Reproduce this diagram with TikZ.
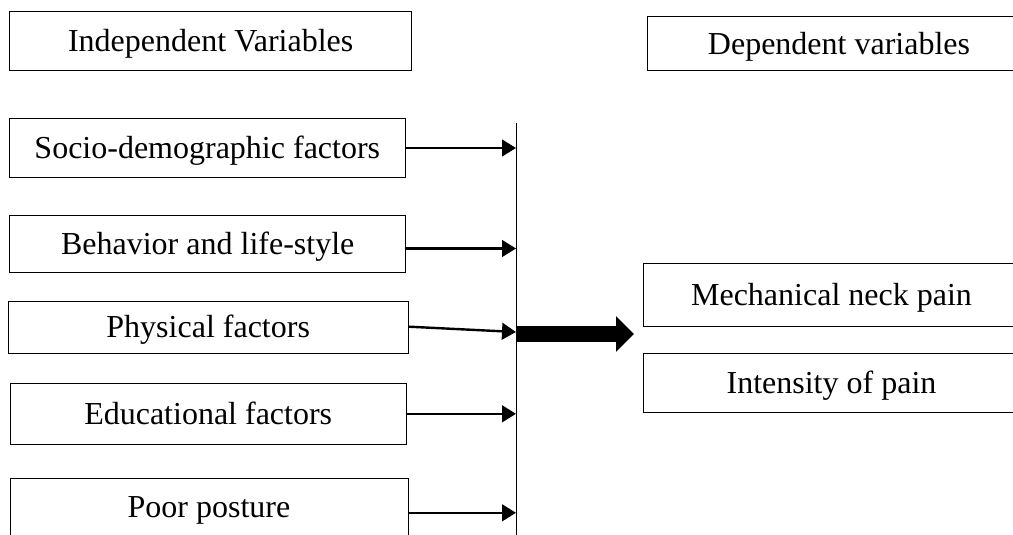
\documentclass[tikz,border=0pt]{standalone}
\usepackage{fontspec}
\setmainfont{Liberation Serif}
\usetikzlibrary{arrows.meta}
\begin{document}
\begin{tikzpicture}[x=0.75pt,y=-0.75pt,
  box/.style={draw,line width=0.75pt,inner sep=0pt,text height=16pt,text depth=0pt,
    font=\fontsize{24}{28}\selectfont},
  conn/.style={line width=1.8pt,-{Triangle[length=10.5pt,width=12.5pt]}},
  bigarrow/.style={line width=12pt,-{Triangle[length=13.5pt,width=26pt]}}]
\useasboundingbox (0,0) rectangle (1013,535);
\clip (0,0) rectangle (1013,535);
\node[box,minimum width=402.5*0.75pt,minimum height=58.5*0.75pt] (indep) at (210.7,41.2) {Independent Variables};
\node[box,minimum width=383.5*0.75pt,minimum height=54.2*0.75pt] (dep) at (839,43.4) {Dependent variables};
\node[box,minimum width=395.5*0.75pt,minimum height=59*0.75pt] (socio) at (207.3,148) {Socio-demographic factors};
\node[box,minimum width=396.5*0.75pt,minimum height=56.6*0.75pt] (behav) at (207.7,243.7) {Behavior and life-style};
\node[box,minimum width=399.6*0.75pt,minimum height=52.4*0.75pt] (phys) at (208.2,327.2) {Physical factors};
\node[box,minimum width=396.4*0.75pt,minimum height=60.8*0.75pt] (edu) at (208.2,414.2) {Educational factors};
\node[box,minimum width=398*0.75pt,minimum height=58*0.75pt] (poor) at (209,507) {Poor posture};
\node[box,minimum width=377*0.75pt,minimum height=63*0.75pt] (mech) at (831.5,295) {Mechanical neck pain};
\node[box,minimum width=377*0.75pt,minimum height=59*0.75pt] (inten) at (831.5,383.2) {Intensity of pain};
\coordinate (vtop) at (516,123);
\coordinate (vbot) at (516,545);
\draw[line width=0.75pt] (vtop) -- (vbot);
\coordinate (e1) at (516,148);
\coordinate (e2) at (516,248.5);
\coordinate (e3) at (516,332);
\coordinate (e4) at (516,413.8);
\coordinate (e5) at (516,512.8);
\draw[conn] (socio.east |- e1) -- (e1);
\draw[conn] (behav.east |- e2) -- (e2);
\draw[conn] ([yshift=0.4pt]phys.east) -- (e3);
\draw[conn] (edu.east |- e4) -- (e4);
\draw[conn] (poor.east |- e5) -- (e5);
\coordinate (bstart) at (516,334);
\coordinate (btip) at (634,334);
\draw[bigarrow] (bstart) -- (btip);
\end{tikzpicture}
\end{document}
